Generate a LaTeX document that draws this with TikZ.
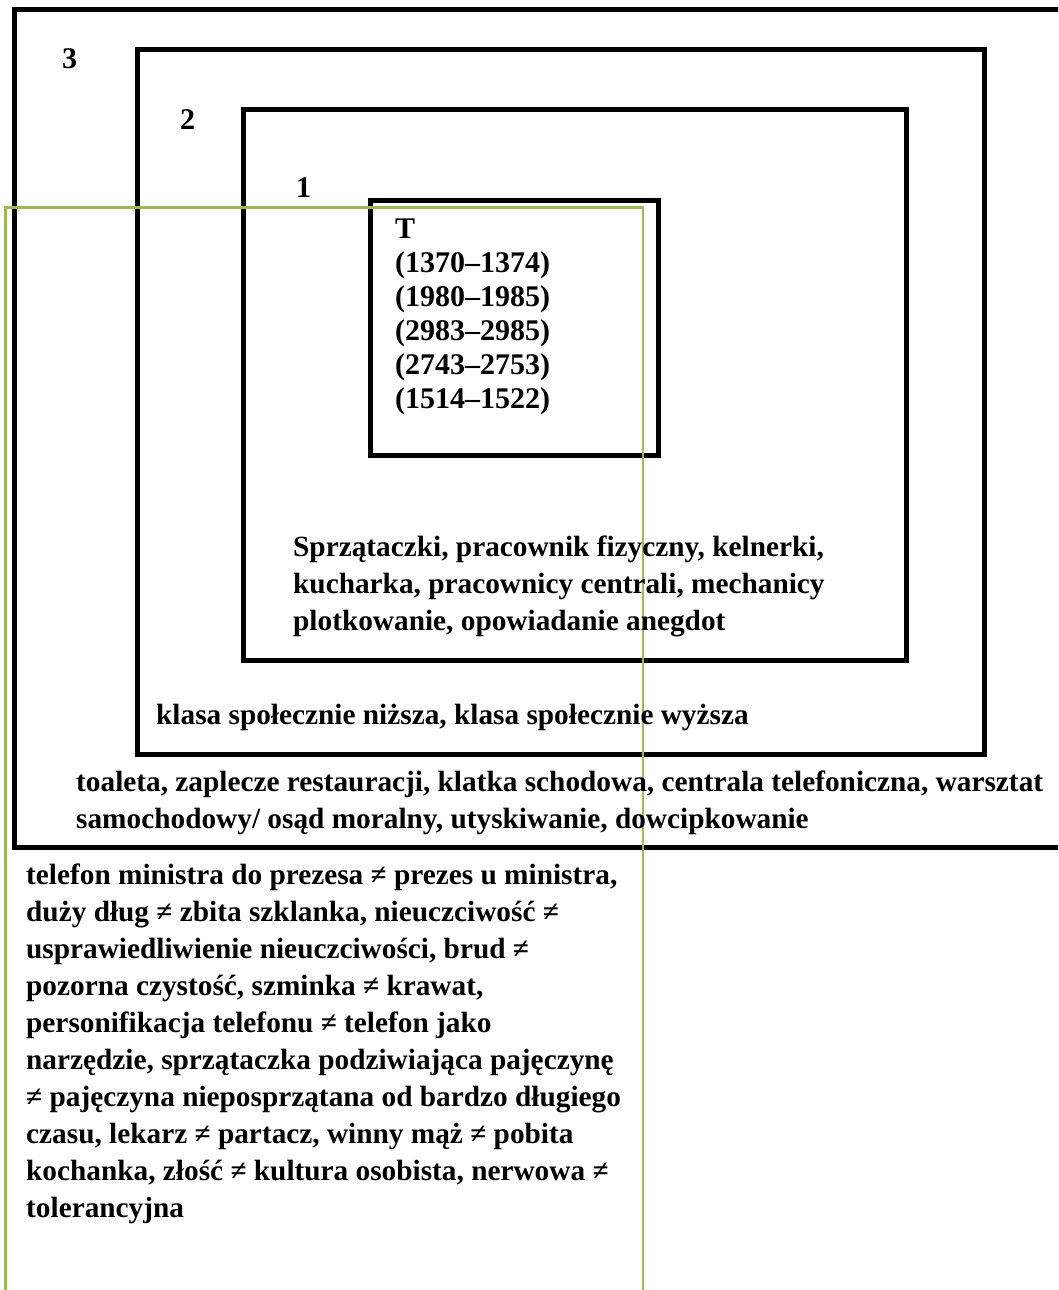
\documentclass[tikz,border=0pt]{standalone}
\usepackage{fontspec}
\setmainfont{Liberation Serif}
\definecolor{framegreen}{HTML}{9BBB59}
\begin{document}
\begin{tikzpicture}[x=1pt,y=-1pt,
  frame/.style={draw=black,line width=5pt},
  greenframe/.style={draw=framegreen,line width=2.5pt},
  lbl/.style={anchor=base west,inner sep=0pt,font=\fontsize{30}{34}\selectfont\bfseries},
  txt/.style={anchor=base west,inner sep=0pt,font=\fontsize{29.3}{37}\selectfont\bfseries}]
\useasboundingbox (0,0) rectangle (1058,1290);
\clip (0,0) rectangle (1058,1290);
\fill[white] (0,0) rectangle (1058,1290);

% nested frames
\draw[frame] (14,9.5) rectangle (1070,847);
\draw[frame] (137,49.5) rectangle (984.5,754.5);
\draw[frame] (243,109.5) rectangle (906.5,660);
\draw[frame] (370.5,200) rectangle (658,455);

% green frame running off the bottom
\draw[greenframe] (5.5,1300) -- (5.5,207.5) -- (643,207.5) -- (643,1300);

% level numbers
\node[lbl] (n3) at (62,68) {3};
\node[lbl] (n2) at (180,129) {2};
\node[lbl] (n1) at (296,197) {1};

% core box
\foreach \t [count=\i] in {T,(1370–1374),(1980–1985),(2983–2985),(2743–2753),(1514–1522)}
  \node[lbl] (core\i) at (395,{238+34*(\i-1)}) {\t};

% level 1
\foreach \t [count=\i] in {{Sprzątaczki, pracownik fizyczny, kelnerki,},
                           {kucharka, pracownicy centrali, mechanicy},
                           {plotkowanie, opowiadanie anegdot}}
  \node[txt] (lvlone\i) at (293,{556+37*(\i-1)}) {\t};

% level 2
\node[txt] (lvltwo) at (156,724) {klasa społecznie niższa, klasa społecznie wyższa};

% level 3
\foreach \t [count=\i] in {{toaleta, zaplecze restauracji, klatka schodowa, centrala telefoniczna, warsztat},
                           {samochodowy/ osąd moralny, utyskiwanie, dowcipkowanie}}
  \node[txt] (lvlthree\i) at (76,{791+37*(\i-1)}) {\t};

% oppositions
\foreach \t [count=\i] in {{telefon ministra do prezesa ≠ prezes u ministra,},
                           {duży dług ≠ zbita szklanka, nieuczciwość ≠},
                           {usprawiedliwienie nieuczciwości, brud ≠},
                           {pozorna czystość, szminka ≠ krawat,},
                           {personifikacja telefonu ≠ telefon jako},
                           {narzędzie, sprzątaczka podziwiająca pajęczynę},
                           {≠ pajęczyna nieposprzątana od bardzo długiego},
                           {czasu, lekarz ≠ partacz, winny mąż ≠ pobita},
                           {kochanka, złość ≠ kultura osobista, nerwowa ≠},
                           {tolerancyjna}}
  \node[txt] (opp\i) at (26,{884+37*(\i-1)}) {\t};
\end{tikzpicture}
\end{document}
